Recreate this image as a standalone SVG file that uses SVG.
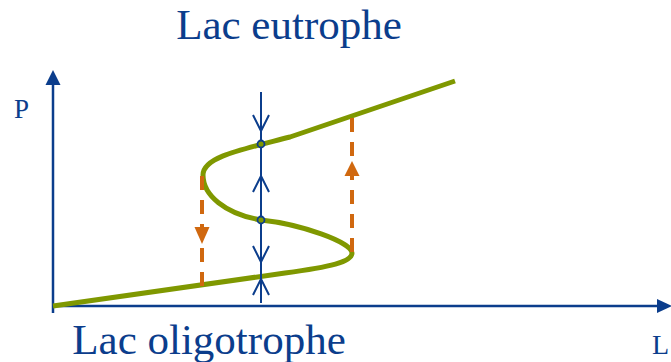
<svg xmlns="http://www.w3.org/2000/svg" width="671" height="362" viewBox="0 0 671 362">
<style>
.ax{stroke:#0b3d8c;stroke-width:2.5;fill:none}
.vl{stroke:#0b3d8c;stroke-width:2;fill:none}
.dash{stroke:#d0680f;stroke-width:4;stroke-dasharray:14,10;fill:none}
.t{font-family:"Liberation Serif",serif;fill:#0b3d8c}
</style>
<rect width="671" height="362" fill="#fff"/>
<g id="axes">
<line class="ax" x1="53" y1="84" x2="53" y2="313"/>
<polygon points="53,70 45.5,85 60.5,85" fill="#0b3d8c"/>
<line class="ax" x1="53" y1="306" x2="660" y2="306"/>
<polygon points="672,306 657,299 657,313" fill="#0b3d8c"/>
</g>
<g id="curve">
<path d="M53,306 L285,273 C330,267 352,262 352,253 C352,242 300,224 261,220 C225,214 203,195 203,175 C203,157 240,150 290,137 L455,81" stroke="#7f9800" stroke-width="5" fill="none" stroke-linejoin="round"/>
</g>
<g id="connectors">
<line class="vl" x1="261" y1="92" x2="261" y2="303"/>
<polyline class="vl" points="253,115 261,131 269,115"/>
<polyline class="vl" points="253,192 261,176 269,192"/>
<polyline class="vl" points="253,246 261,262 269,246"/>
<polyline class="vl" points="253,295 261,279 269,295"/>
<circle cx="261" cy="144" r="3.5" stroke="#0b3d8c" stroke-width="1.8" fill="#7f9800"/>
<circle cx="261" cy="220" r="3.5" stroke="#0b3d8c" stroke-width="1.8" fill="#7f9800"/>
<line class="dash" x1="202" y1="176" x2="202" y2="288"/>
<polygon points="202,244 194.5,227 209.5,227" fill="#d0680f"/>
<line class="dash" x1="352" y1="252" x2="352" y2="113"/>
<polygon points="352,161 344.5,176 359.5,176" fill="#d0680f"/>
</g>
<g id="labels">
<text class="t" x="289" y="39" font-size="43" text-anchor="middle">Lac eutrophe</text>
<text class="t" x="14" y="118" font-size="27">P</text>
<text class="t" x="209" y="354" font-size="43" text-anchor="middle">Lac oligotrophe</text>
<text class="t" x="652" y="354" font-size="28">L</text>
</g>
</svg>
